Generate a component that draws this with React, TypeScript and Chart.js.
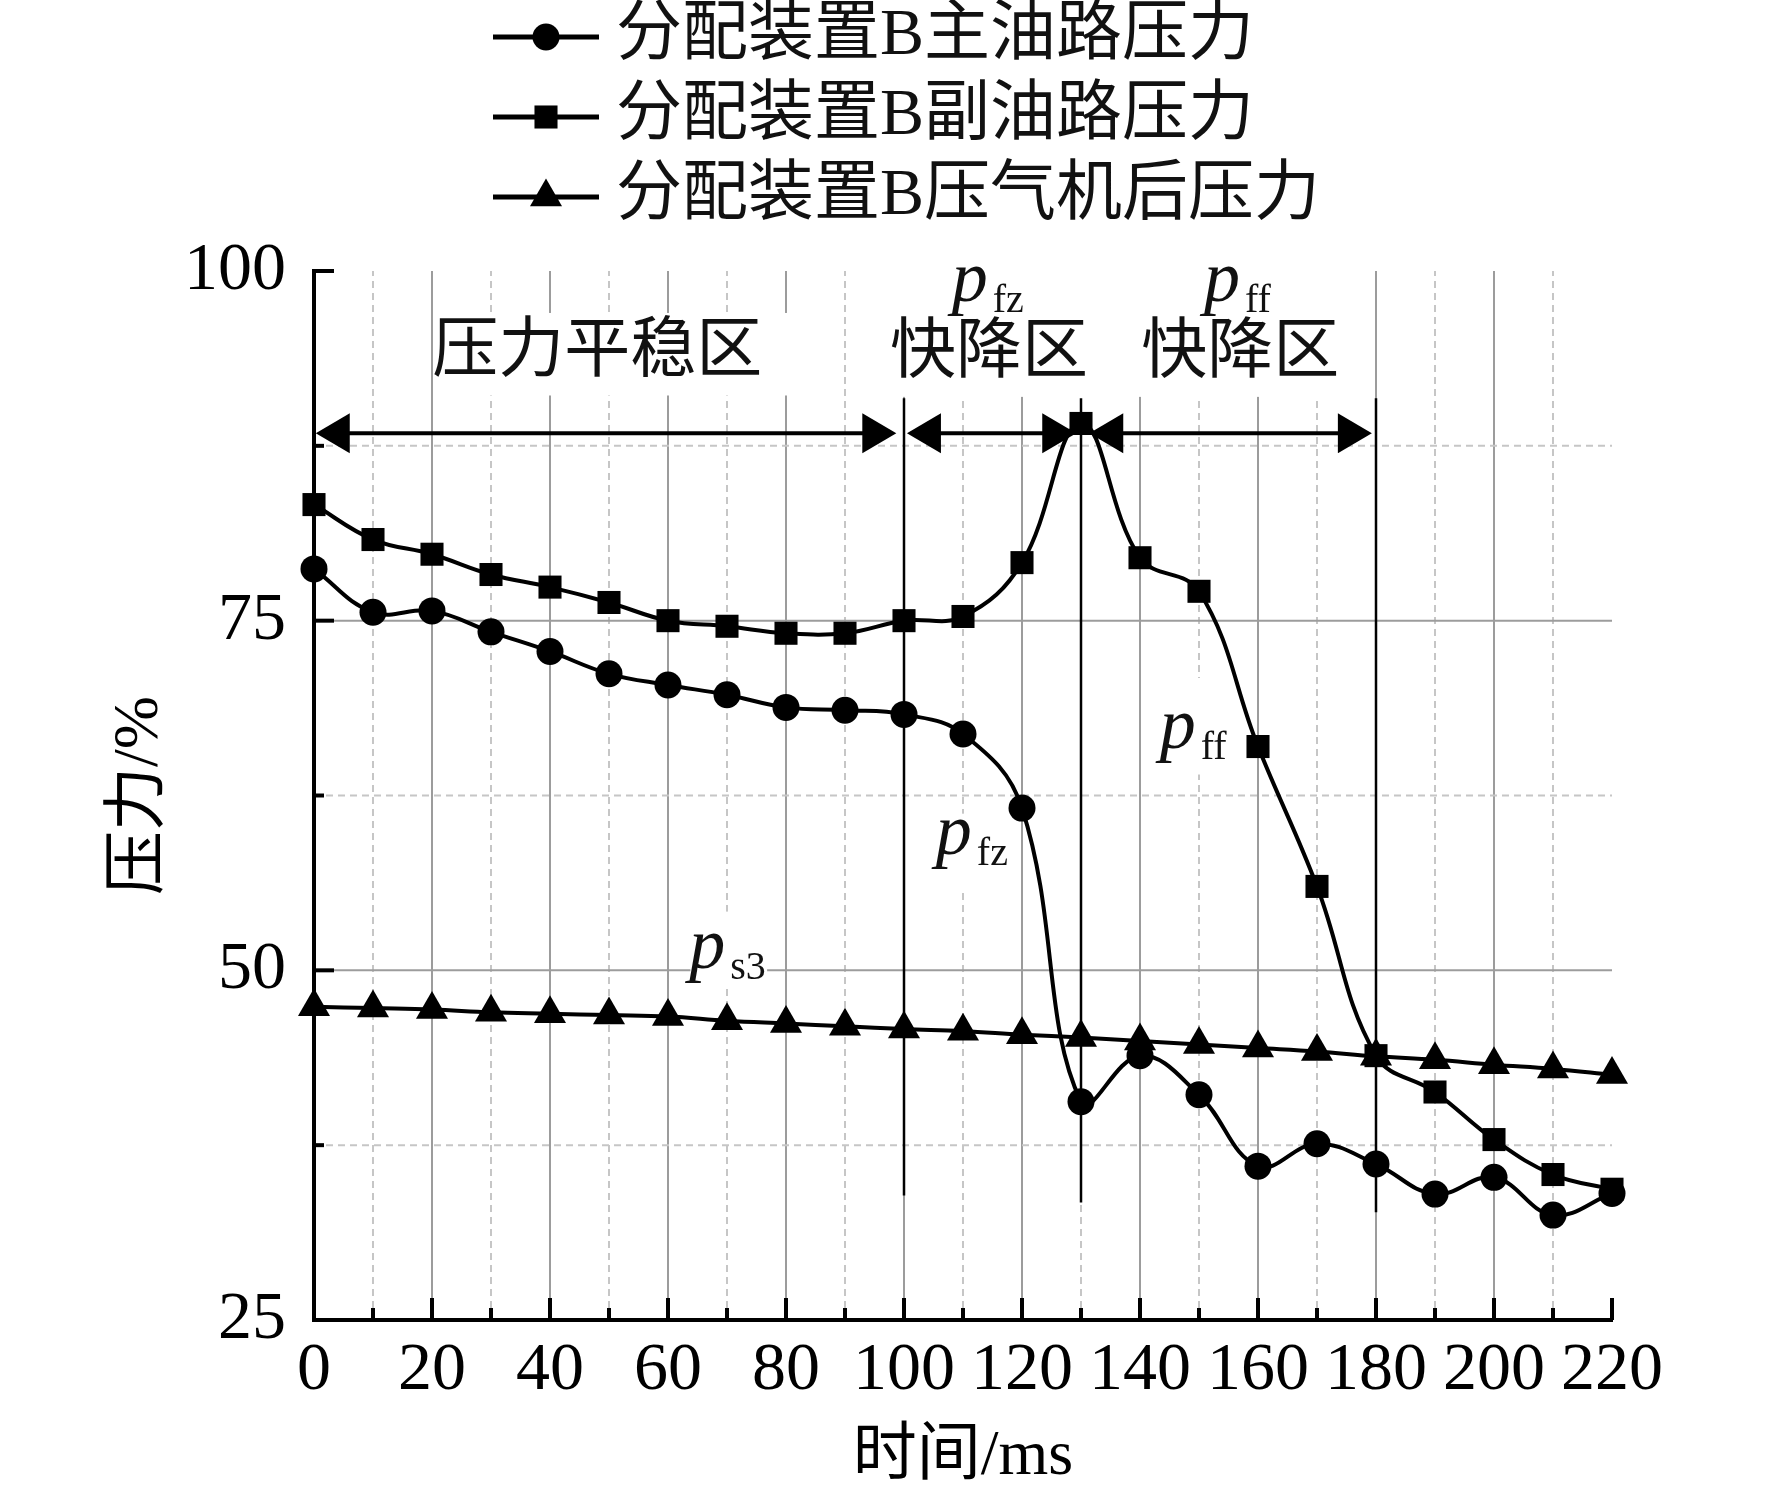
import React, { useEffect, useRef } from 'react';
import { Chart, registerables } from 'chart.js';

Chart.register(...registerables);

// ---- data ----
const times = [0, 10, 20, 30, 40, 50, 60, 70, 80, 90, 100, 110, 120, 130, 140, 150, 160, 170, 180, 190, 200, 210, 220];
const mainOilPressure = [78.7, 75.6, 75.7, 74.2, 72.8, 71.2, 70.4, 69.7, 68.8, 68.6, 68.3, 66.9, 61.6, 40.6, 43.9, 41.1, 36.0, 37.6, 36.15, 34.0, 35.2, 32.5, 34.05];
const auxOilPressure = [83.3, 80.8, 79.75, 78.3, 77.4, 76.3, 75.0, 74.6, 74.1, 74.1, 75.0, 75.3, 79.15, 89.1, 79.5, 77.1, 66.0, 56.0, 43.9, 41.3, 37.9, 35.4, 34.35];
const compressorPressure = [47.4, 47.3, 47.2, 47.0, 46.9, 46.8, 46.7, 46.4, 46.2, 46.0, 45.8, 45.65, 45.4, 45.2, 44.95, 44.7, 44.45, 44.2, 43.85, 43.6, 43.25, 42.95, 42.55];
const seriesLabels = ['分配装置B主油路压力', '分配装置B副油路压力', '分配装置B压气机后压力'];
const seriesStyles = ['circle', 'rect', 'triangle'];
const xTitle = '时间/ms';
const yTitle = '压力/%';
const zoneBounds = [0, 100, 130, 180];
const zoneNames = ['压力平稳区', '快降区', '快降区'];

const SERIF = '"Liberation Serif", "Noto Sans CJK SC", serif';
const INK = '#111';

function drawMarker(ctx: CanvasRenderingContext2D, style: string, x: number, y: number, r: number) {
  ctx.beginPath();
  if (style === 'circle') {
    ctx.arc(x, y, r, 0, Math.PI * 2);
  } else if (style === 'rect') {
    const s = Math.SQRT1_2 * r;
    ctx.rect(x - s, y - s, 2 * s, 2 * s);
  } else {
    let a = 0;
    ctx.moveTo(x + Math.sin(a) * r, y - Math.cos(a) * r);
    a += (2 * Math.PI) / 3;
    ctx.lineTo(x + Math.sin(a) * r, y - Math.cos(a) * r);
    a += (2 * Math.PI) / 3;
    ctx.lineTo(x + Math.sin(a) * r, y - Math.cos(a) * r);
    ctx.closePath();
  }
  ctx.fill();
}

function drawPLabel(ctx: CanvasRenderingContext2D, cx: number, baseline: number, sub: string) {
  ctx.save();
  const pFont = 'italic 72px "Liberation Serif", serif';
  const sFont = '40px "Liberation Serif", serif';
  ctx.font = pFont;
  const pw = ctx.measureText('p').width;
  ctx.font = sFont;
  const sw = ctx.measureText(sub).width;
  const gap = 5;
  const x0 = cx - (pw + gap + sw) / 2;
  ctx.textAlign = 'left';
  ctx.textBaseline = 'alphabetic';
  ctx.fillStyle = INK;
  ctx.font = pFont;
  ctx.fillText('p', x0, baseline);
  ctx.font = sFont;
  ctx.fillText(sub, x0 + pw + gap, baseline + 11);
  ctx.restore();
}

function drawArrow(ctx: CanvasRenderingContext2D, x1: number, x2: number, y: number) {
  const hl = 34;
  const hh = 20;
  ctx.lineWidth = 4;
  ctx.strokeStyle = '#000';
  ctx.fillStyle = '#000';
  ctx.setLineDash([]);
  ctx.beginPath();
  ctx.moveTo(x1 + hl * 0.8, y);
  ctx.lineTo(x2 - hl * 0.8, y);
  ctx.stroke();
  ctx.beginPath();
  ctx.moveTo(x1, y);
  ctx.lineTo(x1 + hl, y - hh);
  ctx.lineTo(x1 + hl, y + hh);
  ctx.closePath();
  ctx.fill();
  ctx.beginPath();
  ctx.moveTo(x2, y);
  ctx.lineTo(x2 - hl, y - hh);
  ctx.lineTo(x2 - hl, y + hh);
  ctx.closePath();
  ctx.fill();
}

const decorPlugin = {
  id: 'decor',
  beforeDatasetsDraw(chart: any) {
    const { ctx, scales } = chart;
    const xs = scales.x;
    const ys = scales.y;
    const X = (v: number) => xs.getPixelForValue(v);
    const Y = (v: number) => ys.getPixelForValue(v);
    ctx.save();
    // grid
    ctx.lineWidth = 2;
    for (let t = 10; t < 220; t += 10) {
      const major = t % 20 === 0;
      ctx.strokeStyle = major ? '#9c9c9c' : '#c6c6c6';
      ctx.setLineDash(major ? [] : [7, 5]);
      ctx.beginPath();
      ctx.moveTo(X(t), Y(25));
      ctx.lineTo(X(t), Y(100));
      ctx.stroke();
    }
    for (let v = 37.5; v < 100; v += 12.5) {
      const major = v % 25 === 0;
      ctx.strokeStyle = major ? '#9c9c9c' : '#c6c6c6';
      ctx.setLineDash(major ? [] : [7, 5]);
      ctx.beginPath();
      ctx.moveTo(X(0), Y(v));
      ctx.lineTo(X(220), Y(v));
      ctx.stroke();
    }
    ctx.setLineDash([]);
    // white label backgrounds
    ctx.fillStyle = '#fff';
    const box = (t1: number, t2: number, v1: number, v2: number) => {
      ctx.fillRect(X(t1), Y(v1), X(t2) - X(t1), Y(v2) - Y(v1));
    };
    box(21, 83, 97.0, 91.1);
    box(97, 177, 100.2, 91.0);
    box(104.5, 118.5, 61.2, 55.7);
    box(142.5, 155.5, 70.9, 64.0);
    box(63.8, 76.8, 54.2, 48.7);
    // zone boundary lines
    const zoneEnds = [33.9, 33.4, 32.7];
    ctx.strokeStyle = '#000';
    ctx.lineWidth = 2.5;
    zoneBounds.slice(1).forEach((t, i) => {
      ctx.beginPath();
      ctx.moveTo(X(t), Y(90.9));
      ctx.lineTo(X(t), Y(zoneEnds[i]));
      ctx.stroke();
    });
    // arrows
    const ay = Y(88.4);
    drawArrow(ctx, X(0.3), X(98.7), ay);
    drawArrow(ctx, X(100.5), X(129.2), ay);
    drawArrow(ctx, X(131.4), X(179.3), ay);
    // zone labels
    ctx.fillStyle = INK;
    ctx.font = '66px ' + SERIF;
    ctx.textAlign = 'center';
    ctx.textBaseline = 'middle';
    ctx.fillText(zoneNames[0], X(48), Y(94.1));
    ctx.fillText(zoneNames[1], X(114.4), Y(94.0));
    ctx.fillText(zoneNames[2], X(157), Y(94.0));
    drawPLabel(ctx, X(114.2), Y(97.86), 'fz');
    drawPLabel(ctx, X(156.5), Y(97.86), 'ff');
    drawPLabel(ctx, X(111.5), Y(58.3), 'fz');
    drawPLabel(ctx, X(149), Y(65.9), 'ff');
    drawPLabel(ctx, X(70.1), Y(50.17), 's3');
    ctx.restore();
  },
  afterDraw(chart: any) {
    const { ctx, scales } = chart;
    const xs = scales.x;
    const ys = scales.y;
    const X = (v: number) => xs.getPixelForValue(v);
    const Y = (v: number) => ys.getPixelForValue(v);
    ctx.save();
    ctx.strokeStyle = '#000';
    ctx.lineWidth = 4;
    ctx.setLineDash([]);
    for (let t = 10; t <= 220; t += 10) {
      const len = t % 20 === 0 ? 22 : 12;
      ctx.beginPath();
      ctx.moveTo(X(t), Y(25));
      ctx.lineTo(X(t), Y(25) - len);
      ctx.stroke();
    }
    for (let v = 37.5; v <= 100; v += 12.5) {
      const len = v % 25 === 0 ? 20 : 10;
      ctx.beginPath();
      ctx.moveTo(X(0), Y(v));
      ctx.lineTo(X(0) + len, Y(v));
      ctx.stroke();
    }
    // legend
    const rows = [37, 117, 197];
    chart.data.datasets.forEach((ds: any, i: number) => {
      const y = rows[i];
      ctx.strokeStyle = '#000';
      ctx.fillStyle = '#000';
      ctx.lineWidth = 5;
      ctx.beginPath();
      ctx.moveTo(493, y);
      ctx.lineTo(599, y);
      ctx.stroke();
      drawMarker(ctx, ds.pointStyle, 546, y, ds.pointRadius);
      ctx.fillStyle = INK;
      ctx.font = '66px ' + SERIF;
      ctx.textAlign = 'left';
      ctx.textBaseline = 'middle';
      ctx.fillText(ds.label, 616, y);
    });
    ctx.restore();
  },
};

export default function App() {
  const ref = useRef<HTMLCanvasElement>(null);
  useEffect(() => {
    document.body.style.margin = '0';
    const canvas = ref.current;
    if (!canvas) return;
    const mk = (vals: number[], i: number, r: number) => ({
      label: seriesLabels[i],
      data: times.map((t, k) => ({ x: t, y: vals[k] })),
      borderColor: '#000',
      backgroundColor: '#000',
      borderWidth: 4,
      pointStyle: seriesStyles[i],
      pointRadius: r,
      pointBorderWidth: 0,
      pointBackgroundColor: '#000',
      tension: 0.4,
      clip: false,
    });
    const chart = new Chart(canvas, {
      type: 'line',
      data: {
        datasets: [mk(mainOilPressure, 0, 13.5), mk(auxOilPressure, 1, 16.3), mk(compressorPressure, 2, 18.5)] as any,
      },
      plugins: [decorPlugin],
      options: {
        animation: false,
        responsive: false,
        devicePixelRatio: 1,
        layout: { padding: { top: 271, right: 160, left: 0, bottom: 0 } },
        plugins: { legend: { display: false }, tooltip: { enabled: false } },
        scales: {
          x: {
            type: 'linear',
            min: 0,
            max: 220,
            grid: { display: false, drawTicks: false },
            border: { display: true, color: '#000', width: 4 },
            ticks: { stepSize: 20, autoSkip: false, maxRotation: 0, padding: 10, color: '#000', font: { family: SERIF, size: 68 } },
            title: { display: true, text: xTitle, color: '#000', font: { family: SERIF, size: 64 }, padding: { top: 0, bottom: 3 } },
            afterFit: (s: any) => { s.height = 179; },
          },
          y: {
            type: 'linear',
            min: 25,
            max: 100,
            grid: { display: false, drawTicks: false },
            border: { display: true, color: '#000', width: 4 },
            ticks: { stepSize: 25, autoSkip: false, padding: 28, color: '#000', font: { family: SERIF, size: 68 } },
            title: { display: true, text: yTitle, color: '#000', font: { family: SERIF, size: 64 }, padding: { top: 102, bottom: 0 } },
            afterFit: (s: any) => { s.width = 314; },
          },
        },
      } as any,
    });
    return () => chart.destroy();
  }, []);
  return (
    <div style={{ width: 1772, height: 1499, background: '#fff' }}>
      <canvas ref={ref} width={1772} height={1499} style={{ display: 'block' }} />
    </div>
  );
}
